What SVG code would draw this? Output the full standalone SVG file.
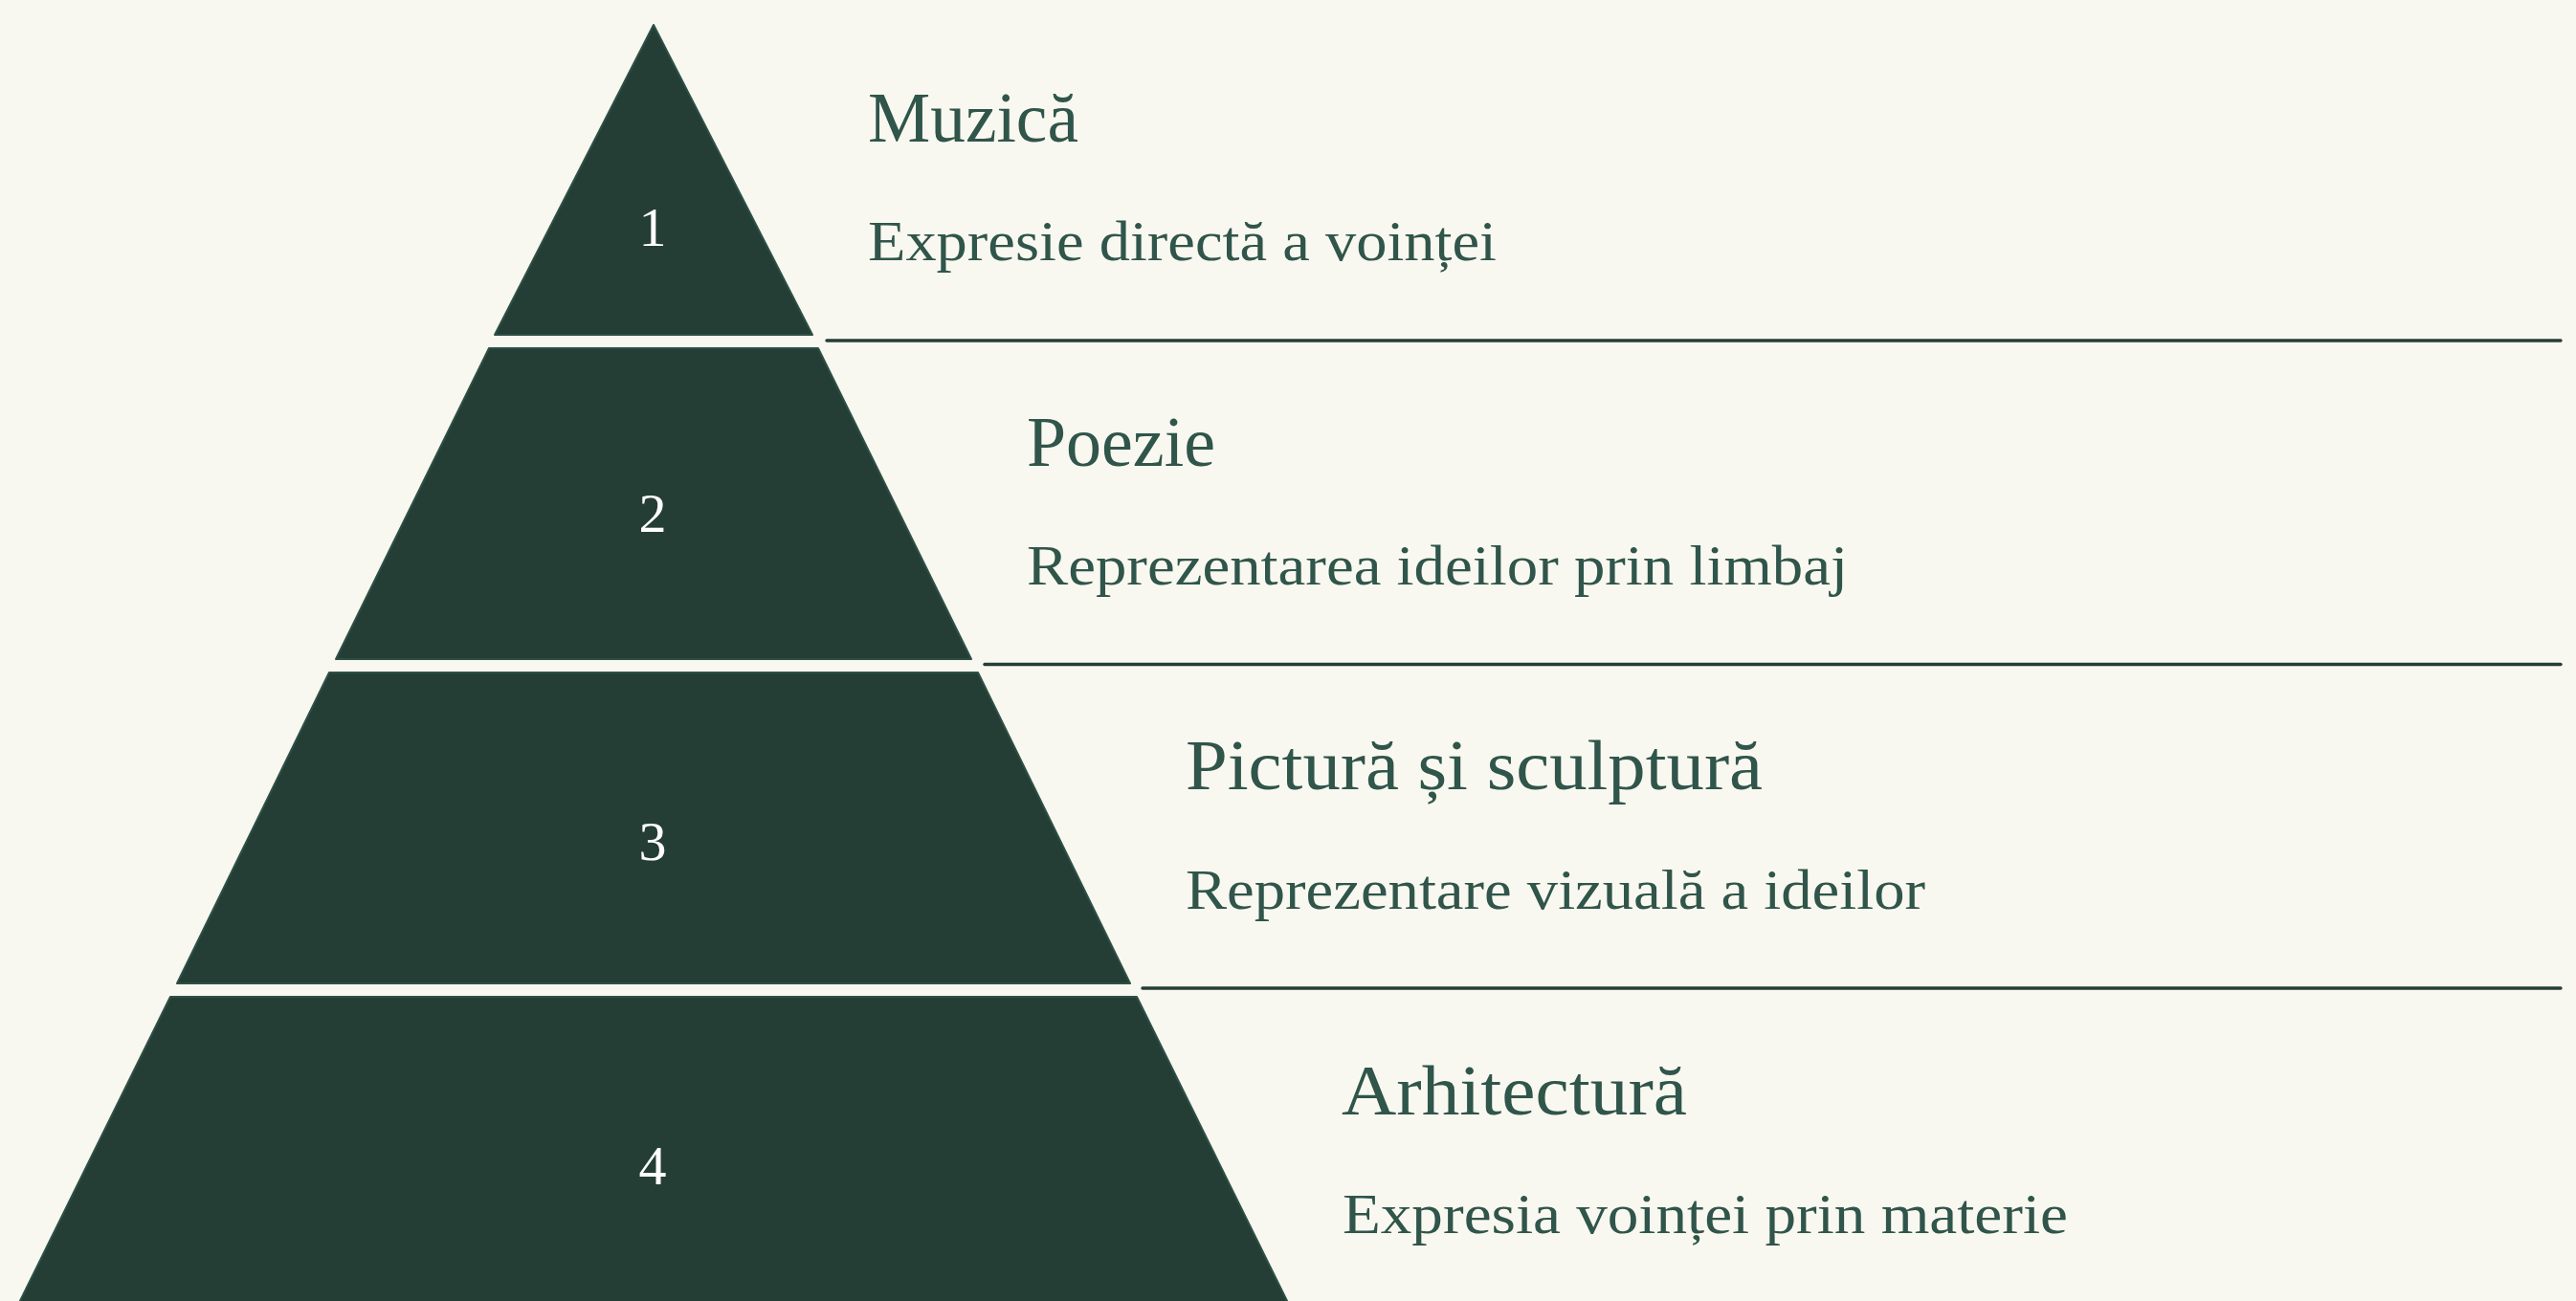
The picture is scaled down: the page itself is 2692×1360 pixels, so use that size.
<svg xmlns="http://www.w3.org/2000/svg" width="2692" height="1360" viewBox="0 0 2692 1360">
<style>
.tier{fill:#243e36;stroke:#2e5046;stroke-width:2;stroke-linejoin:round}
.num{font-family:"Liberation Serif","DejaVu Serif",serif;font-size:58px;fill:#ffffff;text-anchor:middle}
.title{font-family:"Liberation Serif","DejaVu Serif",serif;font-size:74px;fill:#30554a}
.desc{font-family:"Liberation Serif","DejaVu Serif",serif;font-size:60px;fill:#30554a}
.rule{stroke:#243e36;stroke-width:3.4;stroke-linecap:round;fill:none}
</style>
<rect x="0" y="0" width="2692" height="1360" fill="#f9f8f0"/>
<g id="connectors">
<line class="rule" x1="864" y1="356" x2="2676" y2="356"/>
<line class="rule" x1="1029" y1="694.5" x2="2676" y2="694.5"/>
<line class="rule" x1="1194" y1="1033" x2="2676" y2="1033"/>
</g>
<g id="tier1">
<polygon class="tier" points="683,26 849,350 517,350"/>
<text class="num" x="682" y="257">1</text>
<text class="title" x="907" y="148" textLength="220" lengthAdjust="spacingAndGlyphs">Muzică</text>
<text class="desc" x="907" y="272" textLength="657" lengthAdjust="spacingAndGlyphs">Expresie directă a voinței</text>
</g>
<g id="tier2">
<polygon class="tier" points="511,364 855,364 1015,689 351,689"/>
<text class="num" x="682" y="556">2</text>
<text class="title" x="1073" y="487" textLength="197" lengthAdjust="spacingAndGlyphs">Poezie</text>
<text class="desc" x="1073" y="611" textLength="858" lengthAdjust="spacingAndGlyphs">Reprezentarea ideilor prin limbaj</text>
</g>
<g id="tier3">
<polygon class="tier" points="344,703 1022,703 1181,1028 185,1028"/>
<text class="num" x="682" y="899">3</text>
<text class="title" x="1239" y="825" textLength="603" lengthAdjust="spacingAndGlyphs">Pictură și sculptură</text>
<text class="desc" x="1239" y="950" textLength="773" lengthAdjust="spacingAndGlyphs">Reprezentare vizuală a ideilor</text>
</g>
<g id="tier4">
<polygon class="tier" points="178,1042 1188,1042 1351,1372 15,1372"/>
<text class="num" x="682" y="1238">4</text>
<text class="title" x="1402" y="1165" textLength="361" lengthAdjust="spacingAndGlyphs">Arhitectură</text>
<text class="desc" x="1403" y="1289" textLength="758" lengthAdjust="spacingAndGlyphs">Expresia voinței prin materie</text>
</g>
</svg>
